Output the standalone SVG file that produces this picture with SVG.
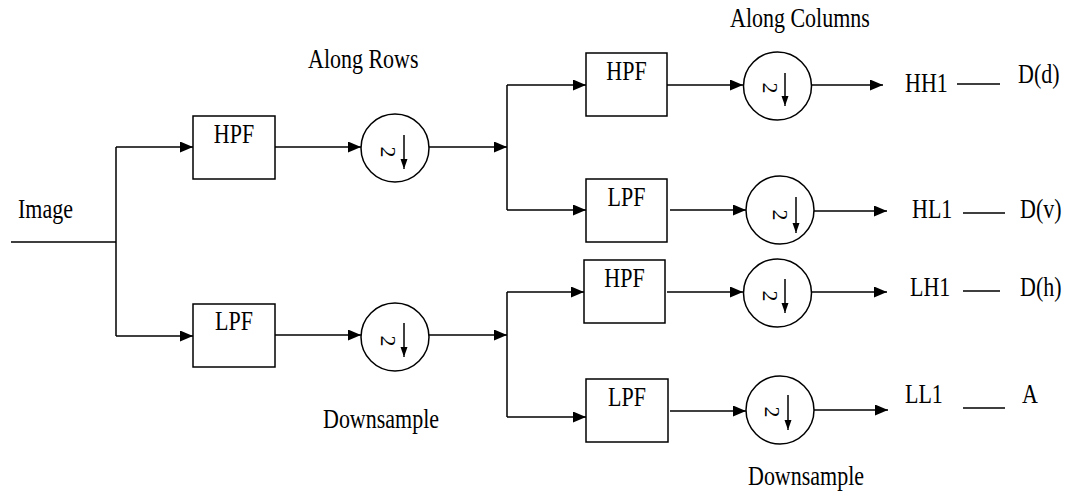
<svg xmlns="http://www.w3.org/2000/svg" width="1069" height="493" viewBox="0 0 1069 493">
<style>
.ln{fill:none;stroke:#000;stroke-width:1.5}
.bx{fill:#fff;stroke:#000;stroke-width:1.5}
.t{font-family:"Liberation Serif","Times New Roman",serif;font-size:22px;fill:#000}
.tc{text-anchor:middle}
.two{font-family:"Liberation Serif","Times New Roman",serif;font-size:22px;fill:#000;text-anchor:middle;dominant-baseline:central}
</style>
<defs>
<marker id="ah" markerUnits="userSpaceOnUse" markerWidth="14" markerHeight="12" refX="13" refY="5.5" orient="auto">
<path d="M0,0 L13,5.5 L0,11 z" fill="#000"/>
</marker>
<marker id="sa" markerUnits="userSpaceOnUse" markerWidth="8" markerHeight="12" refX="10" refY="3.5" orient="auto">
<path d="M0,0 L10,3.5 L0,7 z" fill="#000"/>
</marker>
</defs>
<g id="connectors">
<path class="ln" d="M11,242 H116 M116,147 V336"/>
<path class="ln" d="M116,147 H193" marker-end="url(#ah)"/>
<path class="ln" d="M116,336 H193" marker-end="url(#ah)"/>
<path class="ln" d="M275,147 H361" marker-end="url(#ah)"/>
<path class="ln" d="M275,335 H361" marker-end="url(#ah)"/>
<path class="ln" d="M429,147 H507" marker-end="url(#ah)"/>
<path class="ln" d="M429,335 H507" marker-end="url(#ah)"/>
<path class="ln" d="M507,85 V210 M507,292 V417"/>
<path class="ln" d="M507,85 H586" marker-end="url(#ah)"/>
<path class="ln" d="M507,210 H586" marker-end="url(#ah)"/>
<path class="ln" d="M507,292 H584" marker-end="url(#ah)"/>
<path class="ln" d="M507,417 H586" marker-end="url(#ah)"/>
<path class="ln" d="M667,85 H743" marker-end="url(#ah)"/>
<path class="ln" d="M670,210 H746" marker-end="url(#ah)"/>
<path class="ln" d="M667,292 H743" marker-end="url(#ah)"/>
<path class="ln" d="M670,411 H746" marker-end="url(#ah)"/>
<path class="ln" d="M812,85 H883" marker-end="url(#ah)"/>
<path class="ln" d="M814,211 H887" marker-end="url(#ah)"/>
<path class="ln" d="M812,292 H887" marker-end="url(#ah)"/>
<path class="ln" d="M814,410 H888" marker-end="url(#ah)"/>
<path class="ln" d="M957,84 H1000 M963,213 H1005 M963,291 H1000 M963,408 H1005"/>
</g>
<g id="hpf1"><rect class="bx" x="193" y="116" width="82" height="63"/><text class="t tc" transform="matrix(1,0,0,1.2,234,143)">HPF</text></g>
<g id="lpf1"><rect class="bx" x="193" y="304" width="82" height="63"/><text class="t tc" transform="matrix(1,0,0,1.2,234,330)">LPF</text></g>
<g id="ds1"><circle class="bx" cx="395" cy="148" r="34"/><text class="two" transform="translate(388,152) rotate(90)">2</text><path class="ln" d="M404,135 V169" marker-end="url(#sa)"/></g>
<g id="ds2"><circle class="bx" cx="395" cy="337" r="34"/><text class="two" transform="translate(388,341) rotate(90)">2</text><path class="ln" d="M404,323 V357" marker-end="url(#sa)"/></g>
<g id="hpf2"><rect class="bx" x="586" y="53" width="81" height="63"/><text class="t tc" transform="matrix(1,0,0,1.2,626.5,80)">HPF</text></g>
<g id="lpf2"><rect class="bx" x="586" y="179" width="81" height="63"/><text class="t tc" transform="matrix(1,0,0,1.2,626.5,206)">LPF</text></g>
<g id="hpf3"><rect class="bx" x="584" y="260" width="81" height="63"/><text class="t tc" transform="matrix(1,0,0,1.2,624.5,287)">HPF</text></g>
<g id="lpf3"><rect class="bx" x="586" y="379" width="82" height="63"/><text class="t tc" transform="matrix(1,0,0,1.2,627,406)">LPF</text></g>
<g id="ds3"><circle class="bx" cx="777.5" cy="86" r="34"/><text class="two" transform="translate(770,88) rotate(90)">2</text><path class="ln" d="M785,73 V106" marker-end="url(#sa)"/></g>
<g id="ds4"><circle class="bx" cx="780" cy="210" r="34"/><text class="two" transform="translate(780,215) rotate(90)">2</text><path class="ln" d="M796,197 V233" marker-end="url(#sa)"/></g>
<g id="ds5"><circle class="bx" cx="777.5" cy="293" r="34"/><text class="two" transform="translate(770,296) rotate(90)">2</text><path class="ln" d="M785,279 V313" marker-end="url(#sa)"/></g>
<g id="ds6"><circle class="bx" cx="780" cy="410" r="34"/><text class="two" transform="translate(772,412) rotate(90)">2</text><path class="ln" d="M788,395 V430" marker-end="url(#sa)"/></g>
<g id="labels">
<text class="t" transform="matrix(1,0,0,1.2,18,218)">Image</text>
<text class="t" transform="matrix(1,0,0,1.2,308,68)">Along Rows</text>
<text class="t" transform="matrix(1,0,0,1.2,730,27)">Along Columns</text>
<text class="t" transform="matrix(1,0,0,1.2,323,428)">Downsample</text>
<text class="t" transform="matrix(1,0,0,1.2,748,485)">Downsample</text>
<text class="t" transform="matrix(1,0,0,1.2,905,92)">HH1</text>
<text class="t" transform="matrix(1,0,0,1.2,1018,83)">D(d)</text>
<text class="t" transform="matrix(1,0,0,1.2,912,218)">HL1</text>
<text class="t" transform="matrix(1,0,0,1.2,1020,218)">D(v)</text>
<text class="t" transform="matrix(1,0,0,1.2,910,296)">LH1</text>
<text class="t" transform="matrix(1,0,0,1.2,1020,296)">D(h)</text>
<text class="t" transform="matrix(1,0,0,1.2,905,403)">LL1</text>
<text class="t" transform="matrix(1,0,0,1.2,1022,403)">A</text>
</g>
</svg>
